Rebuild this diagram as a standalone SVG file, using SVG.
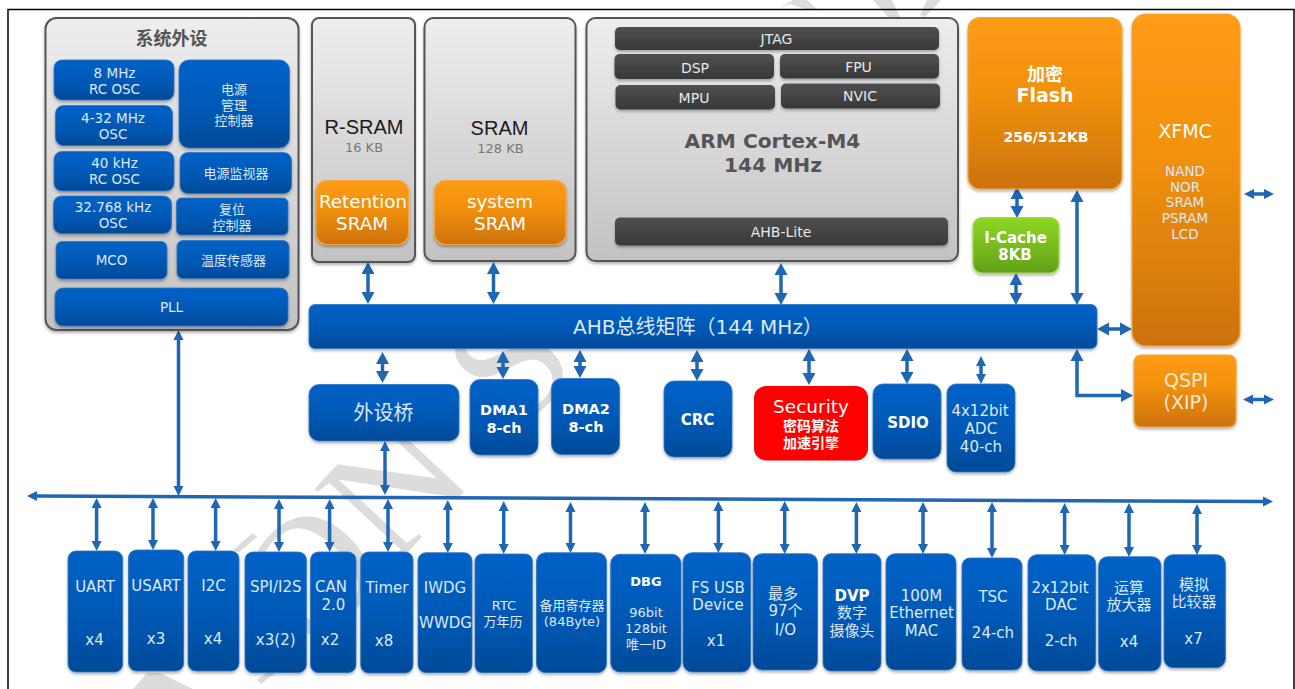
<svg xmlns="http://www.w3.org/2000/svg" width="1295" height="689" viewBox="0 0 1295 689">
<style>
text{font-family:"DejaVu Sans","Noto Sans CJK SC",sans-serif;text-anchor:middle;dominant-baseline:central;fill:#dce9f6;font-size:15px}
.wm{font-family:"Liberation Serif","Noto Sans CJK SC",serif;fill:#dcdcdc;font-size:170px;text-anchor:start;dominant-baseline:auto}
.b rect{fill:url(#blue);stroke:#2f74c4;stroke-width:.8;filter:url(#sh)}
.g rect{fill:url(#grey);stroke:#555;stroke-width:2;filter:url(#sh)}
.o rect{fill:url(#orange);stroke:#f5a53a;stroke-width:1.2;filter:url(#sh)}
.d rect{fill:url(#dark);filter:url(#sh)}
.s{font-size:13.5px}
.c{font-size:13px}
.m{font-size:14px;fill:#e8e8e8}
.bd{font-weight:bold;fill:#fff}
.w{fill:#fff}
.con line,.con polyline{stroke:#1f66b5;stroke-width:3.5;fill:none}
</style>
<defs>
<linearGradient id="blue" x1="0" y1="0" x2="0" y2="1"><stop offset="0" stop-color="#0462c8"/><stop offset=".55" stop-color="#0558b4"/><stop offset="1" stop-color="#034a98"/></linearGradient>
<linearGradient id="grey" x1="0" y1="0" x2="0" y2="1"><stop offset="0" stop-color="#eeeeee"/><stop offset="1" stop-color="#c2c2c2"/></linearGradient>
<linearGradient id="orange" x1="0" y1="0" x2="0" y2="1"><stop offset="0" stop-color="#ff9c14"/><stop offset=".45" stop-color="#f0900f"/><stop offset="1" stop-color="#cc7209"/></linearGradient>
<linearGradient id="dark" x1="0" y1="0" x2="0" y2="1"><stop offset="0" stop-color="#505050"/><stop offset="1" stop-color="#383838"/></linearGradient>
<linearGradient id="green" x1="0" y1="0" x2="0" y2="1"><stop offset="0" stop-color="#8ed824"/><stop offset="1" stop-color="#62a018"/></linearGradient>
<filter id="sh" x="-10%" y="-10%" width="120%" height="125%"><feDropShadow dx="0" dy="2" stdDeviation="1.5" flood-color="#000" flood-opacity=".3"/></filter>
<marker id="a" markerUnits="userSpaceOnUse" markerWidth="14" markerHeight="14" refX="0" refY="7" orient="auto-start-reverse"><path d="M0,0.5L12,7L0,13.500Z" fill="#1f66b5"/></marker>
<marker id="e" markerUnits="userSpaceOnUse" markerWidth="11" markerHeight="12" refX="0" refY="6" orient="auto-start-reverse"><path d="M0,1L10,6L0,11Z" fill="#1f66b5"/></marker>
</defs>
<rect width="1295" height="689" fill="#fff"/>
<g id="watermark"><text class="wm" transform="translate(309,658) rotate(-47)">ON<tspan dx="60">S</tspan></text>
<path fill="#dcdcdc" d="M133,689L147,673L160,673L193,689ZM233,550L253,533L257,537L238,553ZM257,680L284,660L287,664L261,684ZM780,8L793,0H807L817,9H805L790,4ZM873,0H892L900,17H888ZM927,0H941L925,17L920,15Z"/></g>
<path id="frame" d="M8,689V9.500H1294V689" fill="none" stroke="#000" stroke-width="1.500"/>
<g class="con" id="connectors">
<line x1="368" y1="274" x2="368" y2="292" marker-start="url(#a)" marker-end="url(#a)"/>
<line x1="493.500" y1="274" x2="493.500" y2="292" marker-start="url(#a)" marker-end="url(#a)"/>
<line x1="781" y1="275" x2="781" y2="293" marker-start="url(#a)" marker-end="url(#a)"/>
<line x1="1017" y1="199" x2="1017" y2="206" marker-start="url(#a)" marker-end="url(#a)"/>
<line x1="1016" y1="285" x2="1016" y2="293" marker-start="url(#a)" marker-end="url(#a)"/>
<line x1="1077" y1="202" x2="1077" y2="293" marker-start="url(#a)" marker-end="url(#a)"/>
<line x1="1109" y1="329" x2="1120" y2="329" marker-start="url(#a)" marker-end="url(#a)"/>
<line x1="1254" y1="194" x2="1264" y2="194" marker-start="url(#e)" marker-end="url(#e)"/>
<line x1="1253" y1="399.500" x2="1264" y2="399.500" marker-start="url(#e)" marker-end="url(#e)"/>
<polyline points="1077,361 1077,395.500 1121,395.500" marker-start="url(#a)" marker-end="url(#a)"/>
<line x1="382.500" y1="364" x2="382.500" y2="371" marker-start="url(#a)" marker-end="url(#a)"/>
<line x1="503" y1="363" x2="503" y2="367" marker-start="url(#a)" marker-end="url(#a)"/>
<line x1="580" y1="362" x2="580" y2="366" marker-start="url(#a)" marker-end="url(#a)"/>
<line x1="697" y1="362" x2="697" y2="369" marker-start="url(#a)" marker-end="url(#a)"/>
<line x1="809" y1="361" x2="809" y2="373" marker-start="url(#a)" marker-end="url(#a)"/>
<line x1="907" y1="361" x2="907" y2="372" marker-start="url(#a)" marker-end="url(#a)"/>
<line x1="981" y1="366" x2="981" y2="374" marker-start="url(#e)" marker-end="url(#e)"/>
<line x1="385" y1="451" x2="385" y2="485" marker-start="url(#e)" marker-end="url(#e)"/>
<line x1="178.500" y1="340" x2="178.500" y2="486" marker-start="url(#e)" marker-end="url(#e)"/>
<line x1="37" y1="496" x2="1263" y2="501.500" marker-start="url(#e)" marker-end="url(#e)"/>
<line x1="96.600" y1="508" x2="96.600" y2="541" marker-start="url(#e)" marker-end="url(#e)"/>
<line x1="153" y1="508" x2="153" y2="540" marker-start="url(#e)" marker-end="url(#e)"/>
<line x1="215.600" y1="508" x2="215.600" y2="541" marker-start="url(#e)" marker-end="url(#e)"/>
<line x1="279" y1="509" x2="279" y2="542" marker-start="url(#e)" marker-end="url(#e)"/>
<line x1="329.600" y1="509" x2="329.600" y2="542" marker-start="url(#e)" marker-end="url(#e)"/>
<line x1="388" y1="509" x2="388" y2="542" marker-start="url(#e)" marker-end="url(#e)"/>
<line x1="447.800" y1="510" x2="447.800" y2="543" marker-start="url(#e)" marker-end="url(#e)"/>
<line x1="503.700" y1="511" x2="503.700" y2="544" marker-start="url(#e)" marker-end="url(#e)"/>
<line x1="570.500" y1="512" x2="570.500" y2="543" marker-start="url(#e)" marker-end="url(#e)"/>
<line x1="645" y1="512" x2="645" y2="544" marker-start="url(#e)" marker-end="url(#e)"/>
<line x1="718.400" y1="511" x2="718.400" y2="543" marker-start="url(#e)" marker-end="url(#e)"/>
<line x1="784.700" y1="511" x2="784.700" y2="544" marker-start="url(#e)" marker-end="url(#e)"/>
<line x1="856.400" y1="512" x2="856.400" y2="544" marker-start="url(#e)" marker-end="url(#e)"/>
<line x1="923" y1="512" x2="923" y2="544" marker-start="url(#e)" marker-end="url(#e)"/>
<line x1="992" y1="512" x2="992" y2="548" marker-start="url(#e)" marker-end="url(#e)"/>
<line x1="1064.600" y1="513" x2="1064.600" y2="545" marker-start="url(#e)" marker-end="url(#e)"/>
<line x1="1129" y1="513" x2="1129" y2="547" marker-start="url(#e)" marker-end="url(#e)"/>
<line x1="1197" y1="514" x2="1197" y2="545" marker-start="url(#e)" marker-end="url(#e)"/>
</g>
<g id="sys" class="g"><rect x="45.500" y="18" width="253" height="312" rx="11"/><text x="171.500" y="38" style="font-size:18px;font-weight:bold;fill:#555">系统外设</text></g>
<g id="osc8" class="b"><rect x="54" y="60" width="120" height="40" rx="8"/><text class="s" x="114.500" y="72.500">8 MHz</text><text class="s" x="114.500" y="88.500">RC OSC</text></g>
<g id="osc4" class="b"><rect x="55.500" y="105.500" width="117" height="40" rx="8"/><text class="s" x="113" y="118">4-32 MHz</text><text class="s" x="113" y="134">OSC</text></g>
<g id="osc40" class="b"><rect x="54" y="151.500" width="120" height="39.500" rx="8"/><text class="s" x="114.500" y="163">40 kHz</text><text class="s" x="114.500" y="179">RC OSC</text></g>
<g id="osc32" class="b"><rect x="53.500" y="196" width="118" height="37.500" rx="8"/><text class="s" x="113" y="207">32.768 kHz</text><text class="s" x="113" y="223">OSC</text></g>
<g id="mco" class="b"><rect x="56" y="241.500" width="111" height="37.500" rx="6"/><text class="s" x="111.500" y="260">MCO</text></g>
<g id="pll" class="b"><rect x="55" y="288" width="233" height="38" rx="8"/><text class="s" x="171.500" y="306.500">PLL</text></g>
<g id="pwr" class="b"><rect x="179" y="60" width="110.500" height="88" rx="10"/><text class="c" x="234" y="89">电源</text><text class="c" x="234" y="105">管理</text><text class="c" x="234" y="120">控制器</text></g>
<g id="pvd" class="b"><rect x="180" y="152.500" width="111.500" height="41" rx="8"/><text class="c" x="236" y="173">电源监视器</text></g>
<g id="rst" class="b"><rect x="176.500" y="198" width="111.500" height="37" rx="5"/><text class="c" x="232" y="209">复位</text><text class="c" x="232" y="225">控制器</text></g>
<g id="temp" class="b"><rect x="177" y="240.500" width="112" height="38" rx="6"/><text class="c" x="233.500" y="260">温度传感器</text></g>
<g id="rsram" class="g"><rect x="312" y="18" width="103" height="244" rx="7"/><text x="364" y="127" style="font-family:'Liberation Sans',sans-serif;font-size:20px;fill:#1a1a1a">R-SRAM</text><text x="364" y="147" style="font-size:13px;fill:#777">16 KB</text></g>
<g id="ret" class="o"><rect x="316" y="180.500" width="92.500" height="64" rx="11"/><text class="w" x="363" y="201" style="font-size:18.300px">Retention</text><text class="w" x="362" y="223" style="font-size:18.300px">SRAM</text></g>
<g id="sram" class="g"><rect x="424.500" y="18" width="151" height="243" rx="9"/><text x="499.500" y="128" style="font-family:'Liberation Sans',sans-serif;font-size:20px;fill:#1a1a1a">SRAM</text><text x="500.500" y="148" style="font-size:13px;fill:#777">128 KB</text></g>
<g id="sys-sram" class="o"><rect x="434.500" y="180.500" width="131.500" height="64" rx="11"/><text class="w" x="500" y="201" style="font-size:18.300px">system</text><text class="w" x="500" y="223" style="font-size:18.300px">SRAM</text></g>
<g id="arm" class="g"><rect x="586.500" y="18" width="371.500" height="243" rx="9"/><text x="772.500" y="141" style="font-size:20.200px;font-weight:bold;fill:#555">ARM Cortex-M4</text><text x="773" y="165" style="font-size:20.200px;font-weight:bold;fill:#555">144 MHz</text></g>
<g id="jtag" class="d"><rect x="615" y="27" width="324" height="23" rx="5"/><text class="m" x="776.500" y="39">JTAG</text></g>
<g id="dsp" class="d"><rect x="614.500" y="54" width="159.500" height="25" rx="5"/><text class="m" x="695" y="68">DSP</text></g>
<g id="fpu" class="d"><rect x="780" y="54" width="159" height="24.500" rx="5"/><text class="m" x="858.500" y="67">FPU</text></g>
<g id="mpu" class="d"><rect x="615.500" y="85" width="159.500" height="24.500" rx="5"/><text class="m" x="694" y="98">MPU</text></g>
<g id="nvic" class="d"><rect x="781" y="83.500" width="159" height="25" rx="5"/><text class="m" x="860" y="96">NVIC</text></g>
<g id="ahblite" class="d"><rect x="615" y="217.500" width="333" height="28" rx="5"/><text class="m" x="781" y="232">AHB-Lite</text></g>
<g id="flash" class="o"><rect x="968" y="17.500" width="154" height="171.500" rx="12"/><text class="bd" x="1045" y="74" style="font-size:18px">加密</text><text class="bd" x="1045" y="95" style="font-size:19px">Flash</text><text class="bd" x="1046" y="137" style="font-size:14px">256/512KB</text></g>
<g id="xfmc" class="o"><rect x="1132" y="14" width="108" height="332" rx="14"/><text class="w" x="1185" y="131" style="font-size:19px">XFMC</text><text class="s" x="1185" y="171">NAND</text><text class="s" x="1185" y="187">NOR</text><text class="s" x="1185" y="202">SRAM</text><text class="s" x="1185" y="218">PSRAM</text><text class="s" x="1185" y="234">LCD</text></g>
<g id="icache" class="o"><rect x="973" y="217.500" width="86" height="55.500" rx="9" style="fill:url(#green);stroke:#9bdc4a"/><text class="bd" x="1015.500" y="238" style="font-size:15px">I-Cache</text><text class="bd" x="1015" y="255" style="font-size:15px">8KB</text></g>
<g id="ahb" class="b"><rect x="309" y="304.500" width="788" height="44" rx="6"/><text x="698" y="327" style="font-size:20px">AHB总线矩阵（144 MHz）</text></g>
<g id="qspi" class="o"><rect x="1134" y="355" width="102" height="72" rx="7"/><text class="w" x="1186" y="380" style="font-size:19px;fill:#f6e8d6">QSPI</text><text class="w" x="1186" y="402" style="font-size:19px;fill:#f6e8d6">(XIP)</text></g>
<g id="bridge" class="b"><rect x="309" y="384.500" width="150" height="56.500" rx="10"/><text x="383.500" y="412.500" style="font-size:20px">外设桥</text></g>
<g id="dma1" class="b"><rect x="470" y="379.500" width="68" height="75.500" rx="10"/><text class="bd" x="504" y="409.500" style="font-size:14.500px">DMA1</text><text class="bd" x="504" y="427.500" style="font-size:14.500px">8-ch</text></g>
<g id="dma2" class="b"><rect x="551.500" y="378.500" width="68" height="76" rx="10"/><text class="bd" x="586" y="408.500" style="font-size:14.500px">DMA2</text><text class="bd" x="586" y="426.500" style="font-size:14.500px">8-ch</text></g>
<g id="crc" class="b"><rect x="664" y="381" width="68" height="76" rx="10"/><text class="bd" x="697.500" y="420" style="font-size:15px">CRC</text></g>
<g id="security"><rect x="754" y="386" width="114" height="74.500" rx="12" fill="#fe0000"/><text class="w" x="811" y="406" style="font-size:18.500px">Security</text><text class="bd" x="811" y="425.500" style="font-size:14px">密码算法</text><text class="bd" x="811" y="443" style="font-size:14px">加速引擎</text></g>
<g id="sdio" class="b"><rect x="873" y="384" width="68" height="75" rx="10"/><text class="bd" x="908" y="423" style="font-size:15px">SDIO</text></g>
<g id="adc" class="b"><rect x="947" y="384" width="68" height="88" rx="9"/><text x="980" y="411">4x12bit</text><text x="981" y="429">ADC</text><text x="981" y="447">40-ch</text></g>
<g id="uart" class="b"><rect x="68" y="551" width="54.700" height="121" rx="8"/><text x="95" y="587">UART</text><text x="94.500" y="640">x4</text></g>
<g id="usart" class="b"><rect x="128.500" y="550" width="55.200" height="121" rx="8"/><text x="156" y="586">USART</text><text x="156" y="639">x3</text></g>
<g id="i2c" class="b"><rect x="188" y="551" width="51" height="120" rx="8"/><text x="213.500" y="586">I2C</text><text x="213" y="639">x4</text></g>
<g id="spi" class="b"><rect x="245" y="552" width="61.400" height="120.700" rx="8"/><text x="275.700" y="587">SPI/I2S</text><text x="275.700" y="640">x3(2)</text></g>
<g id="can" class="b"><rect x="310.500" y="552" width="45.500" height="120.700" rx="8"/><text x="331" y="587">CAN</text><text x="333.500" y="604.700">2.0</text><text x="330" y="640">x2</text></g>
<g id="timer" class="b"><rect x="360.700" y="552" width="52.300" height="121" rx="8"/><text x="387" y="587.500">Timer</text><text x="384" y="640.700">x8</text></g>
<g id="iwdg" class="b"><rect x="418" y="552.700" width="54" height="120" rx="8"/><text x="445" y="587.500">IWDG</text><text x="445.500" y="623">WWDG</text></g>
<g id="rtc" class="b"><rect x="475" y="554" width="57.400" height="118.700" rx="7"/><text class="c" x="504" y="605.700">RTC</text><text class="c" x="503" y="621.700">万年历</text></g>
<g id="bkp" class="b"><rect x="536.500" y="552.700" width="70" height="120" rx="9"/><text class="c" x="572" y="605">备用寄存器</text><text class="c" x="572" y="621">(84Byte)</text></g>
<g id="dbg" class="b"><rect x="610.700" y="554.300" width="70.300" height="117.700" rx="9"/><text class="bd" x="646" y="581" style="font-size:13px">DBG</text><text class="c" x="646" y="612">96bit</text><text class="c" x="646" y="628">128bit</text><text class="c" x="646" y="644">唯一ID</text></g>
<g id="usb" class="b"><rect x="683" y="552.700" width="67.700" height="119.300" rx="9"/><text x="718" y="587.500">FS USB</text><text x="718" y="605">Device</text><text x="716" y="641">x1</text></g>
<g id="io" class="b"><rect x="753" y="553.700" width="64.500" height="116.300" rx="9"/><text x="783" y="594">最多</text><text x="785.500" y="611">97个</text><text x="785.500" y="630">I/O</text></g>
<g id="dvp" class="b"><rect x="823" y="553.700" width="58" height="117.300" rx="8"/><text class="bd" x="852" y="596">DVP</text><text x="852" y="613">数字</text><text x="852" y="631">摄像头</text></g>
<g id="eth" class="b"><rect x="886" y="553.700" width="70" height="116.300" rx="9"/><text x="921.500" y="595.700">100M</text><text x="921.500" y="613">Ethernet</text><text x="921.500" y="631">MAC</text></g>
<g id="tsc" class="b"><rect x="962" y="558" width="60" height="112" rx="8"/><text x="993" y="596.700">TSC</text><text x="993" y="632.700">24-ch</text></g>
<g id="dac" class="b"><rect x="1028" y="554.700" width="67.700" height="116.300" rx="9"/><text x="1060" y="587.500">2x12bit</text><text x="1061" y="605">DAC</text><text x="1061" y="641">2-ch</text></g>
<g id="opa" class="b"><rect x="1098.600" y="556.700" width="62.400" height="114.300" rx="9"/><text x="1129" y="587.500">运算</text><text x="1129" y="605">放大器</text><text x="1129" y="641.700">x4</text></g>
<g id="cmp" class="b"><rect x="1164" y="554.700" width="61.400" height="113" rx="9"/><text x="1194" y="585">模拟</text><text x="1194" y="602">比较器</text><text x="1193.500" y="639">x7</text></g>
</svg>
